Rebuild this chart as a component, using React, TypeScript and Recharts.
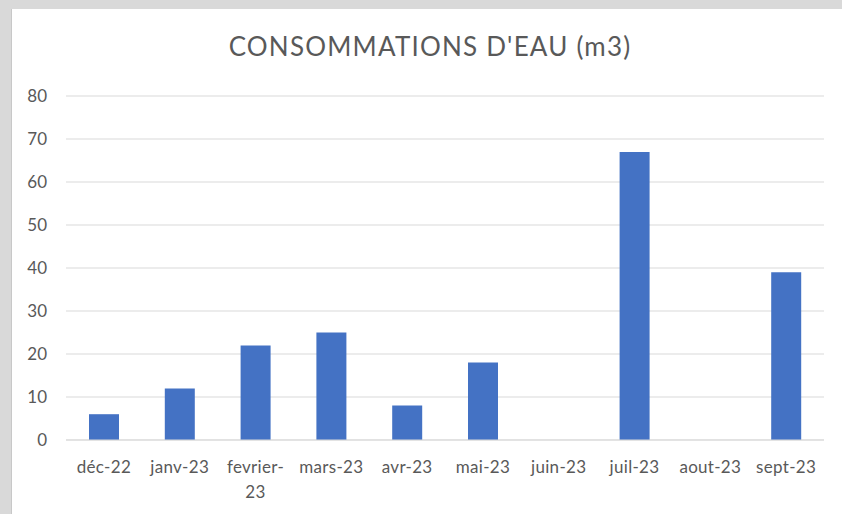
import { BarChart, Bar, XAxis, YAxis, CartesianGrid } from 'recharts';

const months = ['déc-22', 'janv-23', 'fevrier-23', 'mars-23', 'avr-23', 'mai-23', 'juin-23', 'juil-23', 'aout-23', 'sept-23'];
const consumption = [6, 12, 22, 25, 8, 18, 0, 67, 0, 39];
const yTicks = [0, 10, 20, 30, 40, 50, 60, 70, 80];

const data = months.map((m, i) => ({ month: m, value: consumption[i] }));

const FONT = 'Lato, "Open Sans", sans-serif';
const TEXT = '#595959';

function MonthTick(props: any) {
  const { x, y, payload } = props;
  const label: string = payload.value;
  // Excel wraps the long label after the hyphen
  const cut = label.indexOf('-') + 1;
  const lines = label.length > 9 ? [label.slice(0, cut), label.slice(cut)] : [label];
  return (
    <text x={x} y={y + 25} textAnchor="middle" fill={TEXT} fontSize={17} fontFamily={FONT} letterSpacing={0.3}>
      {lines.map((l, i) => (
        <tspan key={i} x={x} dy={i === 0 ? 0 : 25}>{l}</tspan>
      ))}
    </text>
  );
}

export default function App() {
  return (
    <div style={{ position: 'absolute', top: 0, left: 0, width: 842, height: 514, background: '#d9d9d9', overflow: 'hidden' }}>
      <div style={{ position: 'absolute', left: 11, top: 9, width: 1, height: 505, background: '#c8c8c8' }} />
      <div style={{ position: 'absolute', left: 12, top: 9, width: 830, height: 505, background: '#ffffff' }}>
        <div style={{ position: 'absolute', left: 0, width: 836, top: 21, textAlign: 'center', fontFamily: FONT, fontSize: 26, letterSpacing: 1.2, color: TEXT }}>
          CONSOMMATIONS D'EAU (m3)
        </div>
        <BarChart width={830} height={505} data={data} margin={{ top: 87, right: 18, left: 0, bottom: 0 }}>
          <CartesianGrid vertical={false} stroke="#d9d9d9" strokeWidth={1} />
          <XAxis dataKey="month" interval={0} height={74} axisLine={{ stroke: '#d9d9d9' }} tickLine={false} tick={<MonthTick />} />
          <YAxis domain={[0, 80]} ticks={yTicks} width={54} axisLine={false} tickLine={false} tickSize={0} tickMargin={19}
            tick={{ fill: TEXT, fontSize: 17, fontFamily: FONT }} />
          <Bar dataKey="value" fill="#4472c4" barSize={30} isAnimationActive={false} />
        </BarChart>
      </div>
    </div>
  );
}
